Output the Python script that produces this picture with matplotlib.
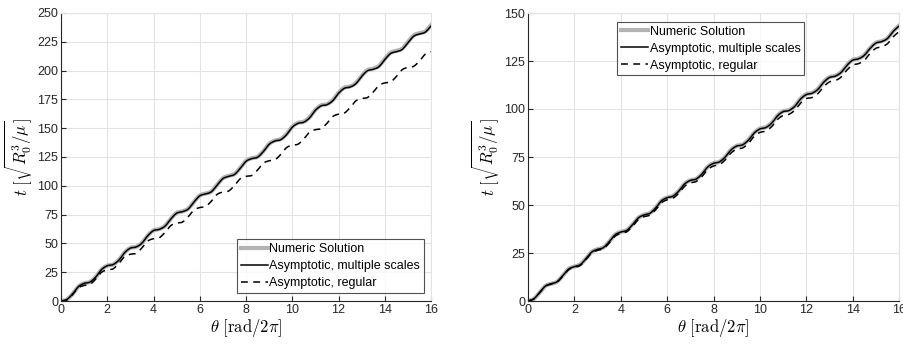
import numpy as np
import matplotlib
matplotlib.use("Agg")
import matplotlib.pyplot as plt

plt.rcParams["font.family"] = ["Liberation Sans", "DejaVu Sans"]
plt.rcParams["mathtext.fontset"] = "cm"

# Angle samples, in revolutions
theta = np.linspace(0, 16, 65)

# Left panel: time of flight
left_numeric = [
    0.0, 1.3, 6.2, 12.5, 15.4, 16.5, 20.8, 27.3, 30.7, 31.7, 35.6, 42.1,
    46.1, 47.1, 50.4, 56.8, 61.3, 62.4, 65.3, 71.5, 76.5, 77.8, 80.1, 86.2,
    91.6, 93.2, 95.1, 100.8, 106.6, 108.6, 110.2, 115.5, 121.6, 124.0, 125.2, 130.1,
    136.4, 139.3, 140.5, 144.8, 151.3, 154.7, 155.7, 159.5, 166.0, 169.9, 170.9, 174.3,
    180.8, 185.2, 186.3, 189.2, 195.5, 200.4, 201.7, 204.0, 210.1, 215.5, 217.1, 219.0,
    224.8, 230.5, 232.5, 234.0, 239.4,
]
left_multiple = [
    0.0, 1.3, 6.1, 12.4, 15.3, 16.4, 20.7, 27.2, 30.6, 31.6, 35.4, 41.9,
    45.9, 46.9, 50.2, 56.6, 61.1, 62.2, 65.0, 71.2, 76.2, 77.5, 79.8, 85.9,
    91.3, 92.9, 94.8, 100.5, 106.2, 108.2, 109.8, 115.1, 121.2, 123.6, 124.8, 129.7,
    136.0, 138.9, 140.0, 144.3, 150.8, 154.2, 155.2, 159.0, 165.5, 169.4, 170.4, 173.8,
    180.2, 184.6, 185.7, 188.6, 194.9, 199.8, 201.1, 203.4, 209.5, 214.8, 216.4, 218.3,
    224.1, 229.8, 231.8, 233.3, 238.7,
]
left_regular = [
    0.0, 0.9, 5.5, 11.4, 13.5, 14.4, 19.0, 24.9, 27.0, 27.9, 32.6, 38.5,
    40.6, 41.4, 46.1, 52.0, 54.1, 54.9, 59.6, 65.5, 67.6, 68.5, 73.1, 79.0,
    81.1, 82.0, 86.6, 92.5, 94.6, 95.5, 100.2, 106.1, 108.2, 109.0, 113.7, 119.6,
    121.7, 122.5, 127.2, 133.1, 135.2, 136.1, 140.7, 146.6, 148.7, 149.6, 154.2, 160.1,
    162.2, 163.1, 167.8, 173.7, 175.8, 176.6, 181.3, 187.2, 189.3, 190.1, 194.8, 200.7,
    202.8, 203.7, 208.3, 214.2, 216.3,
]

# Right panel
right_numeric = [
    0.0, 1.1, 4.4, 7.8, 9.0, 10.0, 13.2, 16.7, 18.0, 19.0, 22.1, 25.6,
    27.0, 27.9, 30.9, 34.5, 36.0, 36.8, 39.7, 43.3, 44.9, 45.7, 48.5, 52.2,
    53.9, 54.7, 57.3, 61.0, 62.9, 63.6, 66.2, 69.9, 71.8, 72.5, 75.0, 78.7,
    80.8, 81.5, 83.9, 87.6, 89.8, 90.5, 92.7, 96.5, 98.8, 99.4, 101.5, 105.3,
    107.7, 108.4, 110.4, 114.1, 116.6, 117.3, 119.2, 122.9, 125.6, 126.3, 128.1, 131.7,
    134.5, 135.3, 136.9, 140.6, 143.4,
]
right_multiple = [
    0.0, 1.1, 4.4, 7.8, 9.0, 10.0, 13.2, 16.6, 17.9, 18.9, 22.0, 25.5,
    26.9, 27.8, 30.8, 34.4, 35.9, 36.7, 39.6, 43.2, 44.8, 45.6, 48.4, 52.1,
    53.8, 54.6, 57.2, 60.9, 62.8, 63.5, 66.1, 69.8, 71.7, 72.4, 74.9, 78.6,
    80.7, 81.3, 83.7, 87.4, 89.6, 90.3, 92.5, 96.3, 98.6, 99.2, 101.3, 105.1,
    107.5, 108.2, 110.2, 113.9, 116.4, 117.1, 119.0, 122.7, 125.4, 126.1, 127.9, 131.5,
    134.3, 135.1, 136.7, 140.4, 143.2,
]
right_regular = [
    0.0, 1.1, 4.3, 7.6, 8.8, 9.8, 12.9, 16.3, 17.5, 18.5, 21.6, 25.0,
    26.4, 27.2, 30.2, 33.7, 35.2, 36.0, 38.8, 42.3, 43.9, 44.7, 47.4, 51.1,
    52.7, 53.5, 56.1, 59.7, 61.5, 62.2, 64.8, 68.4, 70.3, 71.0, 73.4, 77.0,
    79.1, 79.7, 82.0, 85.7, 87.8, 88.5, 90.7, 94.4, 96.6, 97.2, 99.3, 103.0,
    105.4, 106.0, 108.0, 111.6, 114.1, 114.8, 116.6, 120.2, 122.9, 123.6, 125.3, 128.9,
    131.6, 132.4, 134.0, 137.6, 140.3,
]

labels = ["Numeric Solution", "Asymptotic, multiple scales", "Asymptotic, regular"]
x_ticks = np.arange(0, 17, 2)
left_y_ticks = np.arange(0, 251, 25)
right_y_ticks = np.arange(0, 151, 25)


def smooth(x, y, n=12):
    """Catmull-Rom curve through the samples, for drawing."""
    x = np.asarray(x, float)
    y = np.asarray(y, float)
    xp = np.concatenate([[2 * x[0] - x[1]], x, [2 * x[-1] - x[-2]]])
    yp = np.concatenate([[2 * y[0] - y[1]], y, [2 * y[-1] - y[-2]]])
    s = np.linspace(0, 1, n, endpoint=False)
    xs, ys = [], []
    for i in range(1, len(xp) - 2):
        for arr, out in ((xp, xs), (yp, ys)):
            p0, p1, p2, p3 = arr[i - 1], arr[i], arr[i + 1], arr[i + 2]
            out.append(0.5 * ((2 * p1) + (-p0 + p2) * s
                              + (2 * p0 - 5 * p1 + 4 * p2 - p3) * s ** 2
                              + (-p0 + 3 * p1 - 3 * p2 + p3) * s ** 3))
    xs.append([x[-1]])
    ys.append([y[-1]])
    return np.concatenate(xs), np.concatenate(ys)


fig = plt.figure(figsize=(9.04, 3.49), dpi=100)
ax1 = fig.add_axes([61 / 904, 48 / 349, 370 / 904, 288 / 349])
ax2 = fig.add_axes([528 / 904, 48 / 349, 371 / 904, 288 / 349])

axis_color = "#262626"


def draw(ax, num, ms, reg, yticks, ymax, legend_loc, anchor):
    ax.plot(*smooth(theta, num), color="#b3b3b3", lw=3.0, label=labels[0])
    ax.plot(*smooth(theta, ms), color="black", lw=1.1, label=labels[1])
    ax.plot(*smooth(theta, reg), color="black", lw=1.1, ls=(0, (4.5, 3.5)),
            label=labels[2])
    ax.set_xlim(0, 16)
    ax.set_ylim(0, ymax)
    ax.set_xticks(x_ticks)
    ax.set_yticks(yticks)
    ax.grid(True, color="#e3e3e3", lw=0.8)
    ax.set_axisbelow(True)
    for side in ("top", "right"):
        ax.spines[side].set_color("#e3e3e3")
        ax.spines[side].set_linewidth(0.8)
    for side in ("left", "bottom"):
        ax.spines[side].set_color(axis_color)
        ax.spines[side].set_linewidth(0.8)
    ax.tick_params(direction="in", length=3.5, width=0.8, colors=axis_color,
                   labelsize=9, pad=2, top=False, right=False)
    ax.set_xlabel(r"$\theta\ [\mathrm{rad}/2\pi]$", fontsize=12, labelpad=1)
    ax.set_ylabel(r"$t\ [\sqrt{R_0^3/\mu}]$", fontsize=12, labelpad=2)
    leg = ax.legend(loc=legend_loc, bbox_to_anchor=anchor, borderaxespad=0,
                    fontsize=9, frameon=True, fancybox=False, handlelength=2.2,
                    handletextpad=0.1, labelspacing=0.4, borderpad=0.3)
    leg.get_frame().set_edgecolor(axis_color)
    leg.get_frame().set_linewidth(0.8)


draw(ax1, left_numeric, left_multiple, left_regular, left_y_ticks, 250,
     "lower right", (0.981, 0.028))
draw(ax2, right_numeric, right_multiple, right_regular, right_y_ticks, 150,
     "upper left", (0.24, 0.969))

fig.savefig("out.png", dpi=100)
